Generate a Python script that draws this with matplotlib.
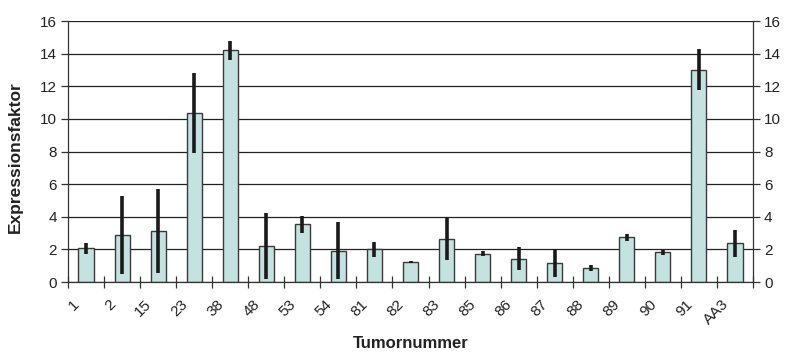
import matplotlib
matplotlib.use('Agg')
import matplotlib.pyplot as plt
import numpy as np

plt.rcParams['font.family'] = ['Liberation Sans', 'DejaVu Sans']

# Tumornummern und Expressionsfaktoren (Mittelwert, Fehler)
tumoren = ['1', '2', '15', '23', '38', '48', '53', '54', '81', '82',
           '83', '85', '86', '87', '88', '89', '90', '91', 'AA3']
faktor = [2.06, 2.88, 3.14, 10.37, 14.2, 2.22, 3.53, 1.92, 2.0, 1.24,
          2.63, 1.73, 1.43, 1.16, 0.84, 2.73, 1.82, 13.0, 2.37]
fehler = [0.33, 2.37, 2.57, 2.45, 0.57, 2.03, 0.52, 1.75, 0.44, 0.05,
          1.3, 0.16, 0.69, 0.87, 0.18, 0.22, 0.16, 1.26, 0.82]

x = np.arange(len(tumoren))

fig = plt.figure(figsize=(7.86, 3.56), dpi=100)
ax = fig.add_axes([68/786, 1-282/356, (753-68)/786, (282-21)/356])

ax.bar(x, faktor, width=0.42, color='#c4e2df', edgecolor='#3a3a3a',
       linewidth=1.0, zorder=2)
ax.errorbar(x, faktor, yerr=fehler, fmt='none', ecolor='#1a1a1a',
            elinewidth=2.6, capsize=0, zorder=3)

ax.set_xlim(-0.5, len(tumoren) - 0.5)
ax.set_ylim(0, 16)
ax.set_yticks(range(0, 17, 2))
ax.yaxis.grid(True, color='#222222', linewidth=0.9, zorder=0)
ax.set_axisbelow(True)

# Beschriftungen an den Kategoriegrenzen, wie im Original
ax.set_xticks(x - 0.5 + 0.12)
ax.set_xticklabels(tumoren, rotation=45, ha='right', va='top',
                   rotation_mode='anchor', fontsize=11, color='#222222')
ax.tick_params(axis='x', which='major', length=0, pad=11)
ax.set_xticks(np.arange(len(tumoren) + 1) - 0.5, minor=True)
ax.tick_params(axis='x', which='minor', direction='inout', length=9,
               width=0.9, color='#333333')

ax.tick_params(axis='y', right=True, labelright=True, direction='out',
               length=5, width=0.9, color='#333333', labelsize=11,
               labelcolor='#222222', pad=3)

for s in ['left', 'right', 'bottom']:
    ax.spines[s].set_color('#333333')
    ax.spines[s].set_linewidth(0.9)
ax.spines['top'].set_visible(False)

ax.set_ylabel('Expressionsfaktor', fontsize=12.5, fontweight='bold',
              color='#222222')
ax.yaxis.set_label_coords(-0.066, 0.48)
ax.set_xlabel('Tumornummer', fontsize=12, fontweight='bold',
              color='#222222')
ax.xaxis.set_label_coords(0.5, -0.205)

fig.savefig('out.png', dpi=100)
